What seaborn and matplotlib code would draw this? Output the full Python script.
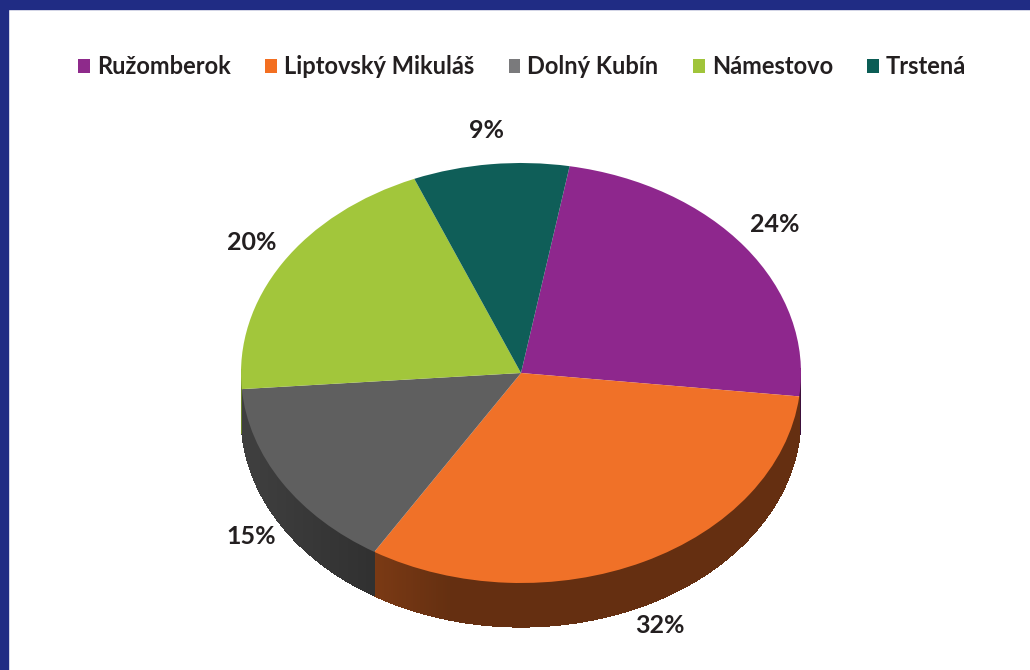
import numpy as np
import matplotlib
matplotlib.use("Agg")
import matplotlib.pyplot as plt
from matplotlib.patches import Patch, Rectangle, Polygon
from matplotlib.colors import to_rgb
import seaborn as sns

# data
districts = ["Ružomberok", "Liptovský Mikuláš", "Dolný Kubín", "Námestovo", "Trstená"]
shares = [24, 32, 15, 20, 9]
top_colors = ["#8e278d", "#f07128", "#5f5f5f", "#a2c63b", "#0f5e58"]
legend_colors = ["#8e2a8b", "#f36f21", "#7a7a7c", "#a0c43a", "#0b5d55"]

sns.set_theme(style="white")
plt.rcParams["font.family"] = ["Lato", "DejaVu Sans"]

fig = plt.figure(figsize=(10.3, 6.7), dpi=100)
ax = fig.add_axes([0, 0, 1, 1])

start = 80
depth = 0.21  # side thickness in data units (y)

# side walls of the front half, darker shades
ang = start
for val, col in zip(shares, top_colors):
    a0, a1 = ang - val * 3.6, ang
    ang = a0
    ts = np.linspace(a0, a1, int((a1 - a0) * 2) + 2)
    base = np.array(to_rgb(col))
    for t0, t1 in zip(ts[:-1], ts[1:]):
        tm = np.radians((t0 + t1) / 2)
        if np.sin(tm) > 0.02:
            continue
        t1e = min(t1 + 0.4, a1)
        x0, y0 = np.cos(np.radians(t0)), np.sin(np.radians(t0))
        x1, y1 = np.cos(np.radians(t1e)), np.sin(np.radians(t1e))
        f = 0.42 + 0.25 * np.clip((-np.cos(tm) - 0.25) / 0.75, 0, 1)
        c = base * f
        ax.add_patch(Polygon([(x0, y0), (x1, y1), (x1, y1 - depth), (x0, y0 - depth)],
                             closed=True, facecolor=c, edgecolor="none", lw=0,
                             antialiased=False, zorder=1))

wedges, texts, autotexts = ax.pie(shares, colors=top_colors, startangle=start, counterclock=False,
                                  autopct=lambda p: f"{p:.0f}%", pctdistance=1.13,
                                  wedgeprops=dict(linewidth=0),
                                  textprops=dict(fontsize=18, fontweight="bold", color="#231f20"))
for w in wedges:
    w.set_zorder(2)
for t in autotexts:
    x, y = t.get_position()
    if y < 0:
        t.set_position((x, y - depth * 0.9))
    else:
        t.set_position((x, y + 0.03))

ax.set_aspect("auto")
ax.set_xlim(-521 / 280, (1030 - 521) / 280)
ax.set_ylim(-297 / 210, 373 / 210)
ax.axis("off")

handles = [Patch(facecolor=c, edgecolor="none") for c in legend_colors]
leg = fig.legend(handles, districts, loc="center", bbox_to_anchor=(0.507, 1 - 67 / 670), ncol=5,
                 frameon=False, handlelength=0.5, handleheight=0.5, handletextpad=0.3,
                 columnspacing=1.45, prop=dict(size=17, weight="bold"))
for t in leg.get_texts():
    t.set_color("#231f20")

# navy frame on top and left
fig.patches.append(Rectangle((0, 1 - 9 / 670), 1, 9 / 670, transform=fig.transFigure, color="#202c84", zorder=5))
fig.patches.append(Rectangle((0, 0), 8 / 1030, 1, transform=fig.transFigure, color="#202c84", zorder=5))

fig.savefig("out.png", dpi=100, facecolor="white")
